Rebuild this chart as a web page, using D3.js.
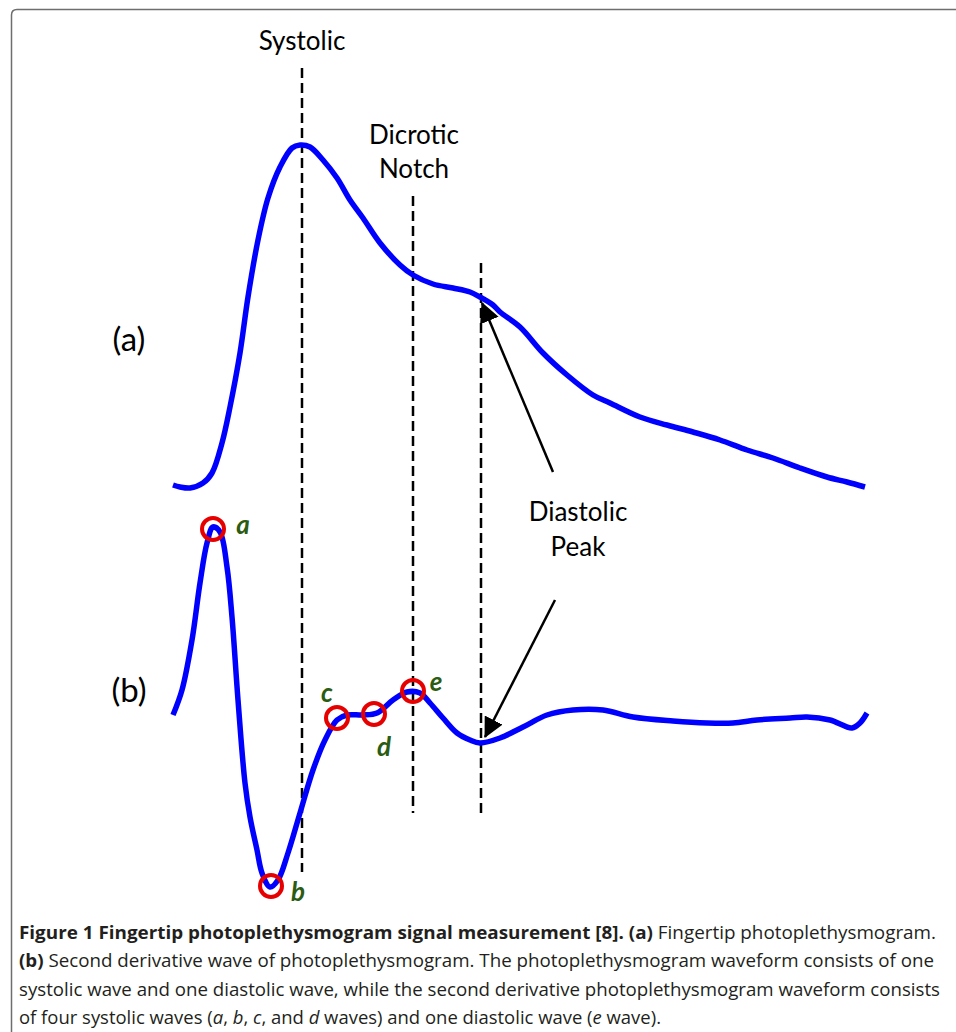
<!DOCTYPE html>
<html>
<head>
<meta charset="utf-8">
<script src="https://cdn.jsdelivr.net/npm/d3@7"></script>
<style>
  body { margin: 0; background: #fff; }
  svg { display: block; }
</style>
</head>
<body>
<div id="vis"></div>
<script>
const FRAME_WIDTH = 956;
const FRAME_HEIGHT = 1032;

// (a) fingertip PPG: time (samples) and amplitude
const PPG_T = [0, 7, 17, 30, 39, 49, 57, 67, 75, 85, 95, 107, 119, 127, 137, 150, 164, 177, 190, 207, 227, 240, 260, 280, 297, 307, 320, 327, 347, 370, 394, 420, 437, 467, 494, 520, 547, 574, 600, 627, 654, 674, 692];
const PPG_A = [4, 2, 1, 6, 16, 46, 82, 136, 192, 249, 291, 322, 341, 344, 342, 329, 311, 289, 271, 246, 224, 214, 205, 201, 197, 192, 184, 177, 162, 136, 114, 94, 86, 72, 64, 57, 49, 39, 31, 21, 12, 7, 2];

// (b) second derivative wave
const SD_T = [0, 9, 19, 27, 34, 40, 47, 54, 59, 65, 72, 77, 84, 89, 97, 105, 115, 127, 140, 152, 164, 174, 190, 204, 220, 234, 247, 257, 270, 284, 297, 307, 327, 350, 374, 400, 430, 460, 500, 534, 560, 584, 617, 634, 657, 679, 687, 694];
const SD_A = [0, 25, 75, 132, 172, 188, 183, 148, 98, 15, -68, -102, -135, -158, -172, -165, -138, -98, -55, -25, -5, 0, 0, 2, 15, 23, 22, 12, -3, -18, -25, -28, -23, -12, 0, 5, 5, -2, -6, -8, -8, -5, -3, -2, -5, -13, -8, 2];

// a-e wave points on (b)
const WAVE_NAMES = ["a", "b", "c", "d", "e"];
const WAVE_T = [40, 98, 164, 201, 240];
const WAVE_A = [186, -171, -3, 1, 24];

// dashed markers: systolic, dicrotic notch, diastolic peak
const GUIDE_T = [129, 240, 308];
const GUIDE_TOP = [68, 196, 263];
const GUIDE_BOTTOM = [872, 813, 815];

const CAPTION = [
  [["Figure 1 Fingertip photoplethysmogram signal measurement [8]. (a)", true], [" Fingertip photoplethysmogram.", false]],
  [["(b)", true], [" Second derivative wave of photoplethysmogram. The photoplethysmogram waveform consists of one", false]],
  [["systolic wave and one diastolic wave, while the second derivative photoplethysmogram waveform consists", false]],
  [["of four systolic waves (", false], ["a", false, true], [", ", false], ["b", false, true], [", ", false], ["c", false, true], [", and ", false], ["d", false, true], [" waves) and one diastolic wave (", false], ["e", false, true], [" wave).", false]]
];
const CAPTION_WIDTHS = [917, 915, 921, 642];

const X_SCALE = d3.scaleLinear().domain([0, 700]).range([173, 873]);
const Y_PPG = d3.scaleLinear().domain([0, 345]).range([489, 144]);
const Y_SD = d3.scaleLinear().domain([-175, 190]).range([890, 525]);

const svg = d3.select("#vis").append("svg")
  .attr("width", FRAME_WIDTH)
  .attr("height", FRAME_HEIGHT);

// figure frame (open at right/bottom)
svg.append("path")
  .attr("d", "M11.5,1040 L11.5,15 Q11.5,9.5 17,9.5 L960,9.5")
  .attr("fill", "none")
  .attr("stroke", "#6e6e6e")
  .attr("stroke-width", 1.5);

const defs = svg.append("defs");
defs.append("marker")
  .attr("id", "head")
  .attr("viewBox", "0 0 20 20")
  .attr("refX", 19).attr("refY", 10)
  .attr("markerWidth", 20).attr("markerHeight", 20)
  .attr("markerUnits", "userSpaceOnUse")
  .attr("orient", "auto")
  .append("path")
    .attr("d", "M0,0 L20,10 L0,20 Z")
    .attr("fill", "#000");

// dashed guide lines
svg.selectAll(".guide")
  .data(GUIDE_T)
  .enter()
  .append("line")
    .attr("x1", (d) => X_SCALE(d))
    .attr("x2", (d) => X_SCALE(d))
    .attr("y1", (d, i) => GUIDE_TOP[i])
    .attr("y2", (d, i) => GUIDE_BOTTOM[i])
    .attr("stroke", "#000")
    .attr("stroke-width", 2.5)
    .attr("stroke-dasharray", "10,5");

const ppgLine = d3.line()
  .x((d) => X_SCALE(d[0]))
  .y((d) => Y_PPG(d[1]))
  .curve(d3.curveCatmullRom);

const sdLine = d3.line()
  .x((d) => X_SCALE(d[0]))
  .y((d) => Y_SD(d[1]))
  .curve(d3.curveCatmullRom);

svg.append("path")
  .datum(d3.zip(PPG_T, PPG_A))
  .attr("d", ppgLine)
  .attr("fill", "none")
  .attr("stroke", "#0000ff")
  .attr("stroke-width", 5.5)
  .attr("stroke-linejoin", "round");

svg.append("path")
  .datum(d3.zip(SD_T, SD_A))
  .attr("d", sdLine)
  .attr("fill", "none")
  .attr("stroke", "#0000ff")
  .attr("stroke-width", 5.5)
  .attr("stroke-linejoin", "round");

// arrows to diastolic peak
svg.append("line")
  .attr("x1", X_SCALE(380)).attr("y1", Y_PPG(17))
  .attr("x2", X_SCALE(309)).attr("y2", Y_PPG(186))
  .attr("stroke", "#000").attr("stroke-width", 2.5)
  .attr("marker-end", "url(#head)");

svg.append("line")
  .attr("x1", X_SCALE(382)).attr("y1", Y_SD(115))
  .attr("x2", X_SCALE(312)).attr("y2", Y_SD(-22))
  .attr("stroke", "#000").attr("stroke-width", 2.5)
  .attr("marker-end", "url(#head)");

// wave markers
svg.selectAll(".wave")
  .data(WAVE_T)
  .enter()
  .append("circle")
    .attr("cx", (d) => X_SCALE(d))
    .attr("cy", (d, i) => Y_SD(WAVE_A[i]))
    .attr("r", 11)
    .attr("fill", "none")
    .attr("stroke", "#e60000")
    .attr("stroke-width", 4);

const LABEL_DX = [30, 27, -10, 10, 23];
const LABEL_DY = [-4, 6, -25, 33, -9];
svg.selectAll(".wlabel")
  .data(WAVE_NAMES)
  .enter()
  .append("text")
    .attr("x", (d, i) => X_SCALE(WAVE_T[i]) + LABEL_DX[i])
    .attr("y", (d, i) => Y_SD(WAVE_A[i]) + LABEL_DY[i])
    .attr("text-anchor", "middle")
    .attr("dy", "0.35em")
    .attr("font-family", "Lato, 'Open Sans', sans-serif")
    .attr("font-weight", "bold")
    .attr("font-style", "italic")
    .attr("font-size", "26px")
    .attr("fill", "#2b5c12")
    .text((d) => d);

// annotation texts
const LABEL_FONT = "Lato, 'Noto Sans', sans-serif";
function label(txt, x, y, size) {
  svg.append("text")
    .attr("x", x).attr("y", y)
    .attr("text-anchor", "middle")
    .attr("dominant-baseline", "middle")
    .attr("font-family", LABEL_FONT)
    .attr("font-size", size)
    .attr("fill", "#000")
    .text(txt);
}
label("Systolic", 302, 43, "26px");
label("Dicrotic", 414, 137, "26px");
label("Notch", 414, 171, "26px");
label("Diastolic", 578, 514, "26px");
label("Peak", 578, 549, "26px");
label("(a)", 129, 343, "33px");
label("(b)", 129, 694, "33px");

// caption
const CAP_Y = [939, 967, 996, 1024];
CAPTION.forEach((parts, i) => {
  const t = svg.append("text")
    .attr("x", 19).attr("y", CAP_Y[i])
    .attr("font-family", "'Liberation Sans Narrow', 'Open Sans', sans-serif")
    .attr("font-size", "18px")
    .attr("fill", "#231f20")
    .attr("textLength", CAPTION_WIDTHS[i])
    .attr("lengthAdjust", "spacingAndGlyphs");
  parts.forEach((p) => {
    t.append("tspan")
      .attr("font-weight", p[1] ? "bold" : "normal")
      .attr("font-style", p[2] ? "italic" : "normal")
      .text(p[0]);
  });
});
</script>
</body>
</html>
